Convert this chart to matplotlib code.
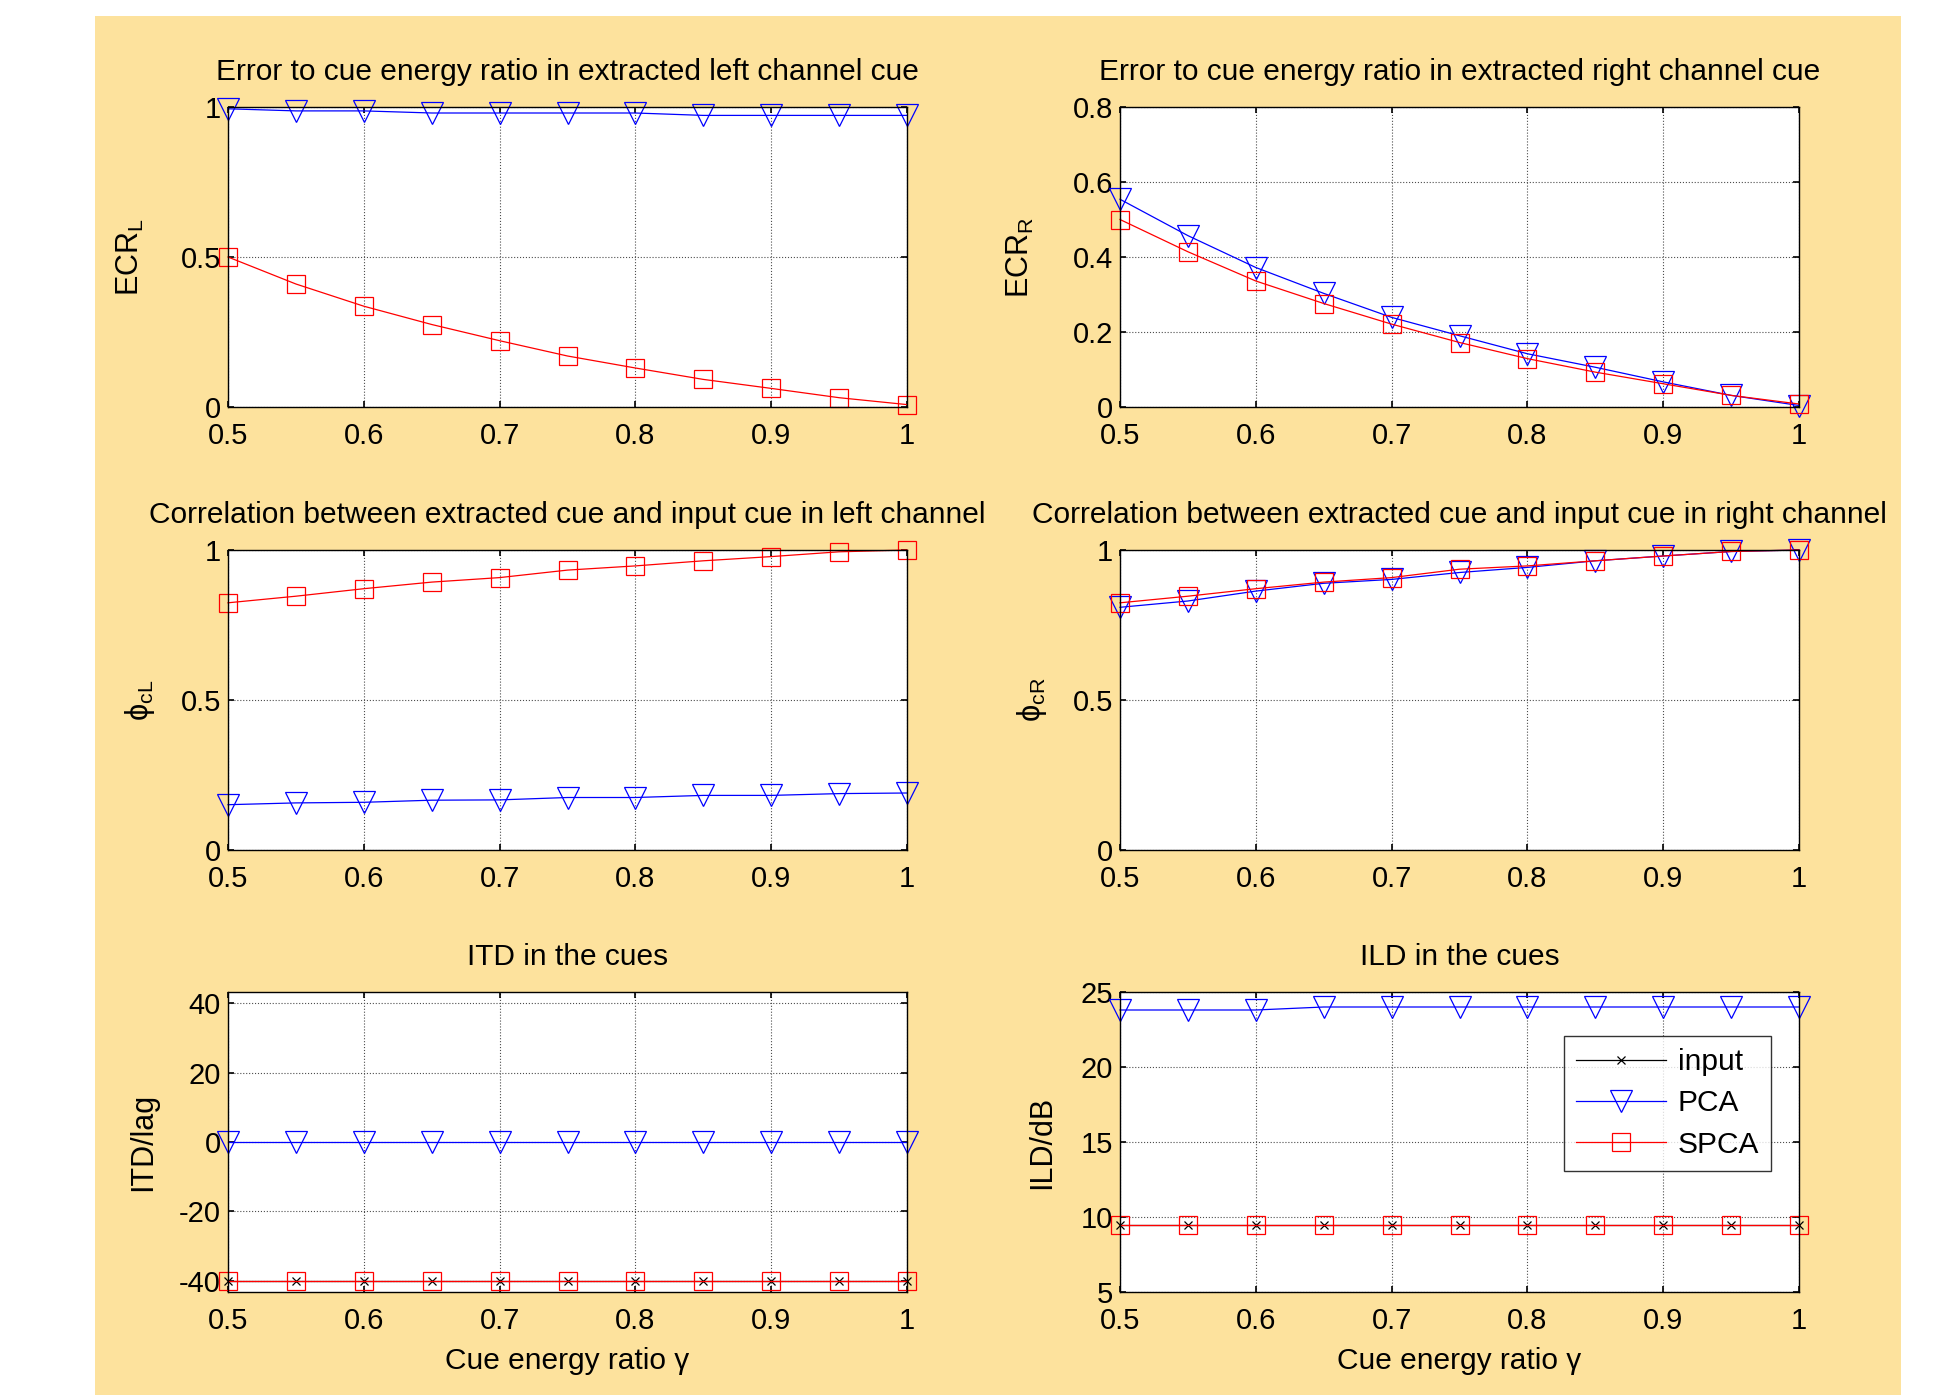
import matplotlib
matplotlib.use('Agg')
import matplotlib.pyplot as plt
from matplotlib.patches import Rectangle
from matplotlib.ticker import FormatStrFormatter

plt.rcParams['font.family'] = ['Liberation Sans', 'DejaVu Sans']
plt.rcParams['mathtext.fontset'] = 'custom'
plt.rcParams['mathtext.rm'] = 'Liberation Sans'
plt.rcParams['mathtext.it'] = 'Liberation Sans:italic'
plt.rcParams['mathtext.default'] = 'regular'
plt.rcParams['mathtext.fallback'] = 'stixsans'

# ---------------- data ----------------
gamma = [0.5, 0.55, 0.6, 0.65, 0.7, 0.75, 0.8, 0.85, 0.9, 0.95, 1.0]

ecr_l_pca = [0.994, 0.987, 0.987, 0.980, 0.980, 0.980, 0.980, 0.972, 0.972, 0.972, 0.972]
ecr_l_spca = [0.500, 0.410, 0.336, 0.275, 0.221, 0.170, 0.130, 0.092, 0.062, 0.031, 0.008]

ecr_r_pca = [0.554, 0.457, 0.372, 0.303, 0.239, 0.190, 0.142, 0.106, 0.067, 0.031, 0.004]
ecr_r_spca = [0.500, 0.414, 0.336, 0.276, 0.221, 0.172, 0.129, 0.093, 0.062, 0.031, 0.008]

phi_l_pca = [0.151, 0.157, 0.159, 0.166, 0.167, 0.175, 0.175, 0.182, 0.182, 0.188, 0.190]
phi_l_spca = [0.824, 0.846, 0.871, 0.893, 0.908, 0.933, 0.947, 0.964, 0.978, 0.994, 1.000]

phi_r_pca = [0.809, 0.830, 0.863, 0.889, 0.902, 0.925, 0.942, 0.964, 0.980, 0.995, 1.000]
phi_r_spca = [0.824, 0.846, 0.871, 0.893, 0.908, 0.936, 0.947, 0.964, 0.980, 0.995, 1.000]

itd_input = [-40, -40, -40, -40, -40, -40, -40, -40, -40, -40, -40]
itd_pca = [0, 0, 0, 0, 0, 0, 0, 0, 0, 0, 0]
itd_spca = [-40, -40, -40, -40, -40, -40, -40, -40, -40, -40, -40]

ild_input = [9.5, 9.5, 9.5, 9.5, 9.5, 9.5, 9.5, 9.5, 9.5, 9.5, 9.5]
ild_pca = [23.8, 23.8, 23.8, 24.0, 24.0, 24.0, 24.0, 24.0, 24.0, 24.0, 24.0]
ild_spca = [9.5, 9.5, 9.5, 9.5, 9.5, 9.5, 9.5, 9.5, 9.5, 9.5, 9.5]

xticks = [0.5, 0.6, 0.7, 0.8, 0.9, 1.0]

titles = [
    'Error to cue energy ratio in extracted left channel cue',
    'Error to cue energy ratio in extracted right channel cue',
    'Correlation between extracted cue and input cue in left channel',
    'Correlation between extracted cue and input cue in right channel',
    'ITD in the cues',
    'ILD in the cues',
]
ylabels = [r'ECR$_L$', r'ECR$_R$', r'$\phi_{cL}$', r'$\phi_{cR}$', 'ITD/lag', 'ILD/dB']
xlabel = 'Cue energy ratio γ'

# ---------------- figure ----------------
W, H = 1945, 1395
fig = plt.figure(figsize=(W / 100, H / 100), dpi=100, facecolor='white')
bg = '#FDE29D'
fig.patches.append(Rectangle((95 / W, 0), (1901 - 95) / W, (H - 16) / H,
                             transform=fig.transFigure, facecolor=bg,
                             edgecolor='none', zorder=-10))

lefts = [228 / W, 1120 / W]
aw = 679 / W
ah = 300 / H
bottoms = [1 - 407 / H, 1 - 850 / H, 1 - 1292 / H]

axes = []
for r in range(3):
    for c in range(2):
        ax = fig.add_axes([lefts[c], bottoms[r], aw, ah])
        axes.append(ax)

FS = 21
blue = '#0000FF'
red = '#FF0000'
lw = 0.9
tri = dict(marker='v', markersize=16.5, markerfacecolor='none', markeredgewidth=0.9)
sq = dict(marker='s', markersize=12.5, markerfacecolor='none', markeredgewidth=0.9)
xm = dict(marker='x', markersize=6, markeredgewidth=0.9)

pca_sets = [ecr_l_pca, ecr_r_pca, phi_l_pca, phi_r_pca, itd_pca, ild_pca]
spca_sets = [ecr_l_spca, ecr_r_spca, phi_l_spca, phi_r_spca, itd_spca, ild_spca]
input_sets = [None, None, None, None, itd_input, ild_input]

ylims = [(0, 1), (0, 0.8), (0, 1), (0, 1), (-43.3, 43.3), (5, 25)]
yticks = [[0, 0.5, 1], [0, 0.2, 0.4, 0.6, 0.8], [0, 0.5, 1], [0, 0.5, 1],
          [-40, -20, 0, 20, 40], [5, 10, 15, 20, 25]]
ylabel_x = [-0.144, -0.147, -0.13, -0.13, -0.125, -0.115]

for i, ax in enumerate(axes):
    handles = []
    if input_sets[i] is not None:
        h0, = ax.plot(gamma, input_sets[i], color='black', lw=lw, label='input', **xm)
        handles.append(h0)
    h1, = ax.plot(gamma, pca_sets[i], color=blue, lw=lw, label='PCA', mec=blue, **tri)
    h2, = ax.plot(gamma, spca_sets[i], color=red, lw=lw, label='SPCA', mec=red, **sq)
    handles += [h1, h2]
    for m in ax.lines:
        m.set_clip_on(False)

    ax.set_xlim(0.5, 1.0)
    ax.set_ylim(*ylims[i])
    ax.set_xticks(xticks)
    ax.set_yticks(yticks[i])
    ax.xaxis.set_major_formatter(FormatStrFormatter('%g'))
    ax.yaxis.set_major_formatter(FormatStrFormatter('%g'))
    ax.tick_params(direction='in', length=4, width=1.2, top=True, right=True,
                   labelsize=FS, color='black')
    ax.tick_params(axis='x', pad=11)
    ax.tick_params(axis='y', pad=5)
    ax.grid(True, linestyle=':', color='0.3', linewidth=0.8)
    ax.set_axisbelow(True)
    for s in ax.spines.values():
        s.set_linewidth(1.0)
        s.set_color('black')
    ax.set_facecolor('white')

    ax.set_title(titles[i], fontsize=FS + 0.5, y=1.115, va='center', pad=0)
    ax.set_ylabel(ylabels[i], fontsize=FS + 1, va='center')
    ax.yaxis.set_label_coords(ylabel_x[i], 0.5)
    if i >= 4:
        ax.set_xlabel(xlabel, fontsize=FS + 0.5, va='center')
        ax.xaxis.set_label_coords(0.5, -0.23)

    if i == 5:
        leg = ax.legend(handles=handles, loc='upper right',
                        bbox_to_anchor=(0.959, 0.853), borderaxespad=0,
                        fontsize=FS + 0.5, frameon=True, fancybox=False,
                        edgecolor='black', handlelength=3.0, labelspacing=0.45,
                        borderpad=0.4, handletextpad=0.4)
        leg.get_frame().set_linewidth(1.0)

fig.savefig('out.png', dpi=100, facecolor='white')
